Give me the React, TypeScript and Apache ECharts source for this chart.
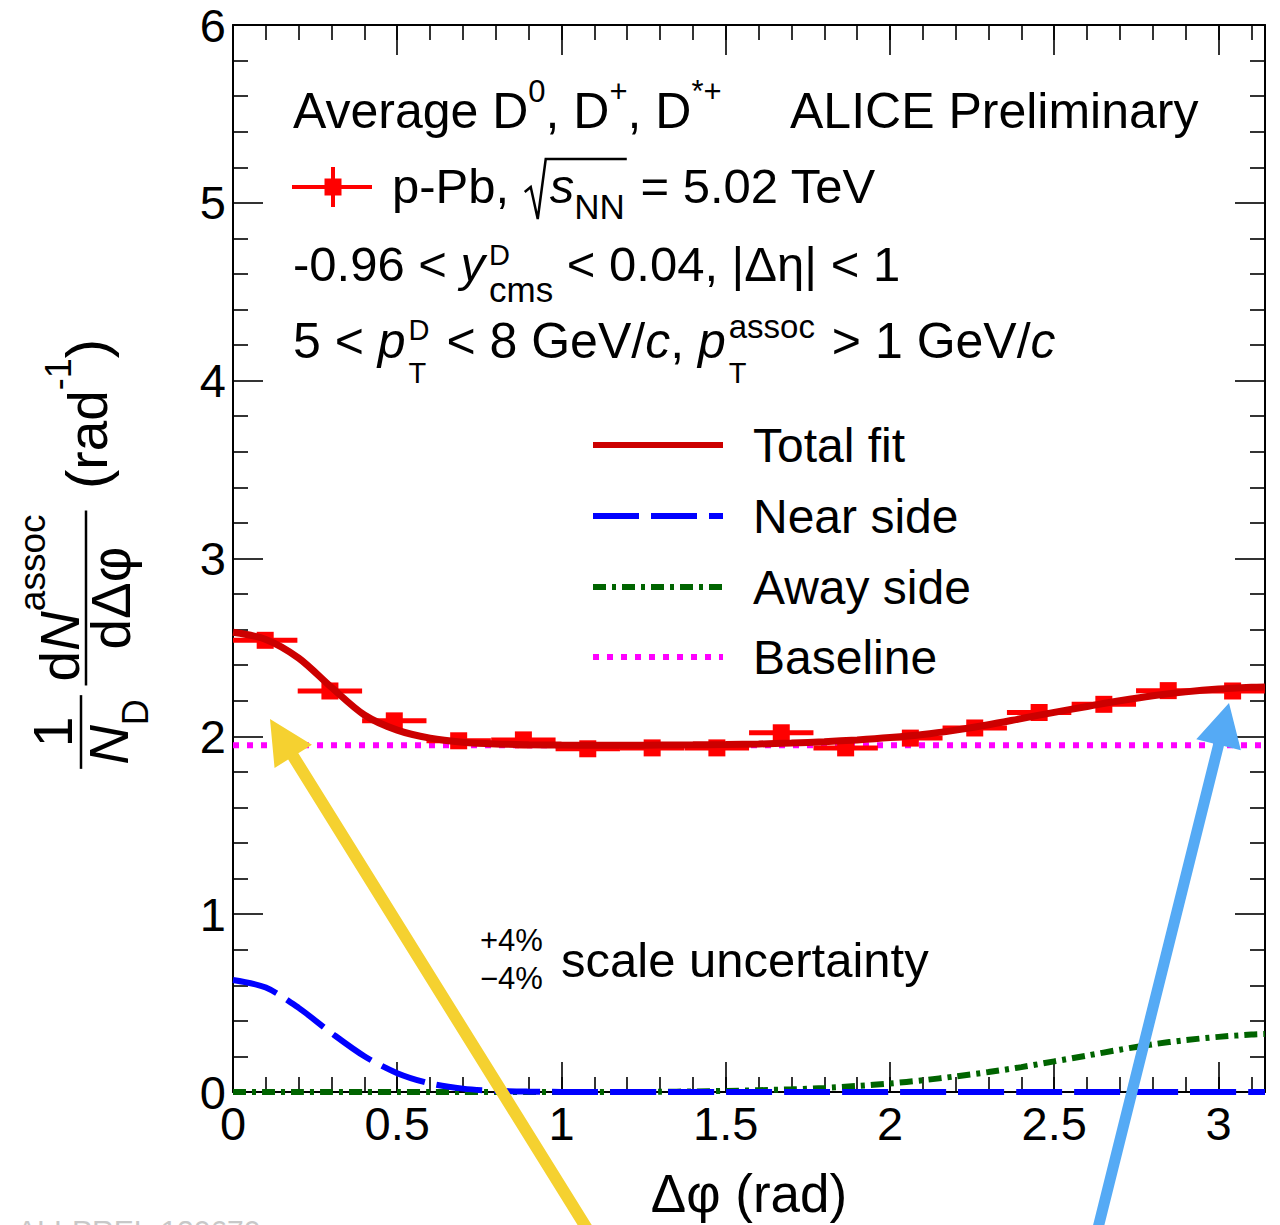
import { useEffect, useRef } from 'react';
import * as echarts from 'echarts';

const FONT = "'Liberation Sans', Arial, Helvetica, sans-serif";

// ---- measured points (bin centres in Δφ, bin half width, values, stat. errors)
const binCenters = [0.098, 0.295, 0.491, 0.687, 0.884, 1.08, 1.276, 1.473, 1.669, 1.865, 2.062, 2.258, 2.454, 2.651, 2.847, 3.043];
const binHalfWidth = 0.098;
const corrValues = [2.54, 2.255, 2.087, 1.975, 1.98, 1.93, 1.935, 1.935, 2.02, 1.935, 1.99, 2.047, 2.134, 2.18, 2.257, 2.255];
const corrErrors = [0.04, 0.04, 0.035, 0.035, 0.035, 0.035, 0.035, 0.035, 0.035, 0.035, 0.035, 0.035, 0.035, 0.035, 0.04, 0.04];

// ---- fit curves
const fitPhi = [0, 0.1, 0.2, 0.3, 0.4, 0.5, 0.6, 0.7, 0.8, 0.9, 1.0, 1.1, 1.2, 1.3, 1.4, 1.5, 1.6, 1.7, 1.8, 1.9, 2.0, 2.1, 2.2, 2.3, 2.4, 2.5, 2.6, 2.7, 2.8, 2.9, 3.0, 3.1, 3.1416];
const totalFit = [2.585, 2.545, 2.44, 2.275, 2.12, 2.035, 1.99, 1.967, 1.957, 1.953, 1.951, 1.95, 1.95, 1.951, 1.952, 1.954, 1.957, 1.962, 1.97, 1.98, 1.993, 2.01, 2.035, 2.065, 2.1, 2.135, 2.168, 2.2, 2.228, 2.25, 2.266, 2.276, 2.278];
const nearSide = [0.63, 0.587, 0.473, 0.331, 0.201, 0.106, 0.048, 0.019, 0.0065, 0.002, 0.0005, 0, 0, 0, 0, 0, 0, 0, 0, 0, 0, 0, 0, 0, 0, 0, 0, 0, 0, 0, 0, 0, 0];
const awaySide = [0, 0, 0, 0, 0, 0, 0, 0, 0, 0, 0, 0, 0, 0.001, 0.003, 0.006, 0.01, 0.015, 0.023, 0.034, 0.048, 0.066, 0.088, 0.112, 0.14, 0.172, 0.205, 0.238, 0.268, 0.292, 0.31, 0.323, 0.326];
const baselineLevel = 1.95;

// ---- axes
const xTickLabels = ['0', '0.5', '1', '1.5', '2', '2.5', '3'];
const yTickLabels = ['0', '1', '2', '3', '4', '5', '6'];
const xMin = 0;
const xMax = Math.PI;
const yMin = 0;
const yMax = 6;

export default function App() {
  const ref = useRef<HTMLDivElement>(null);

  useEffect(() => {
    const el = ref.current!;
    const chart = echarts.init(el, null, { renderer: 'svg' });

    const cvs = document.createElement('canvas').getContext('2d')!;
    const fontStr = (s: number, it?: boolean) => `${it ? 'italic ' : ''}${s}px ${FONT}`;
    const tw = (t: string, s: number, it?: boolean) => {
      cvs.font = fontStr(s, it);
      return cvs.measureText(t).width;
    };
    const mkText = (x: number, base: number, t: string, s: number, it = false, align = 'left', fill = '#000') => ({
      type: 'text',
      x,
      y: base - 0.3465 * s,
      z: 50,
      silent: true,
      style: { text: t, font: fontStr(s, it), fill, textAlign: align, textVerticalAlign: 'middle', verticalAlign: 'middle' },
    });
    type P = { t?: string; s?: number; dy?: number; it?: boolean; gap?: number; stack?: P[] };
    const runWidth = (pieces: P[]) => {
      let x = 0;
      for (const p of pieces) {
        if (p.gap !== undefined) { x += p.gap; continue; }
        const items = p.stack ? p.stack : [p];
        x += Math.max(...items.map((q) => tw(q.t!, q.s!, !!q.it)));
      }
      return x;
    };
    const run = (x0: number, base: number, pieces: P[], out: any[]) => {
      let x = x0;
      for (const p of pieces) {
        if (p.gap !== undefined) { x += p.gap; continue; }
        const items = p.stack ? p.stack : [p];
        let w = 0;
        for (const q of items) {
          out.push(mkText(x, base + (q.dy || 0), q.t!, q.s!, !!q.it));
          w = Math.max(w, tw(q.t!, q.s!, !!q.it));
        }
        x += w;
      }
      return x;
    };

    const g: any[] = [];
    const F = 50;
    // header lines
    run(293, 128, [
      { t: 'Average D', s: F }, { t: '0', s: 31, dy: -26 },
      { t: ', D', s: F }, { t: '+', s: 31, dy: -26 },
      { t: ', D', s: F }, { t: '*+', s: 31, dy: -26 },
    ], g);
    g.push(mkText(790, 128, 'ALICE Preliminary', F));

    // data legend marker
    g.push({ type: 'line', z: 50, shape: { x1: 292, y1: 187, x2: 372, y2: 187 }, style: { stroke: '#ff0000', lineWidth: 4 } });
    g.push({ type: 'line', z: 50, shape: { x1: 333, y1: 167, x2: 333, y2: 207 }, style: { stroke: '#ff0000', lineWidth: 4 } });
    g.push({ type: 'rect', z: 50, shape: { x: 324.5, y: 178.5, width: 17, height: 17 }, style: { fill: '#ff0000' } });
    const x1 = run(392, 203, [{ t: 'p-Pb, ', s: 49 }], g);
    const r0 = x1 + 2;
    const x2 = run(r0 + 25, 203, [{ t: 's', s: 49, it: true }, { t: 'NN', s: 35, dy: 16 }], g);
    g.push({
      type: 'polyline', z: 50,
      shape: { points: [[r0, 192], [r0 + 6, 187], [r0 + 13, 219], [r0 + 21, 159], [x2 + 2, 159]] },
      style: { stroke: '#000', lineWidth: 2.5, fill: null },
    });
    run(x2 + 2, 203, [{ t: ' = 5.02 TeV', s: 49 }], g);

    run(293, 281, [
      { t: '-0.96 < ', s: 49 }, { t: 'y', s: 49, it: true }, { gap: 4 },
      { stack: [{ t: 'D', s: 29, dy: -16 }, { t: 'cms', s: 35, dy: 21 }] },
      { t: ' < 0.04, |Δη| < 1', s: 49 },
    ], g);

    run(293, 358, [
      { t: '5 < ', s: F }, { t: 'p', s: F, it: true }, { gap: 3 },
      { stack: [{ t: 'D', s: 29, dy: -18 }, { t: 'T', s: 29, dy: 25 }] }, { gap: 3 },
      { t: ' < 8 GeV/', s: F }, { t: 'c', s: F, it: true }, { t: ', ', s: F },
      { t: 'p', s: F, it: true }, { gap: 3 },
      { stack: [{ t: 'assoc', s: 33, dy: -20 }, { t: 'T', s: 29, dy: 25 }] }, { gap: 3 },
      { t: ' > 1 GeV/', s: F }, { t: 'c', s: F, it: true },
    ], g);

    // fit legend
    const legY = [445, 516, 587, 657];
    const legItems = [
      { name: 'Total fit', color: '#cc0000', dash: null as any, w: 6 },
      { name: 'Near side', color: '#0000ff', dash: [46, 12], w: 6 },
      { name: 'Away side', color: '#006400', dash: [13, 6, 4, 6], w: 6 },
      { name: 'Baseline', color: '#ff00ff', dash: [6, 8], w: 6 },
    ];
    legItems.forEach((it, i) => {
      g.push({ type: 'line', z: 50, shape: { x1: 593, y1: legY[i], x2: 723, y2: legY[i] }, style: { stroke: it.color, lineWidth: it.w, lineDash: it.dash } });
      g.push(mkText(753, legY[i] + 17, it.name, 48));
    });

    // scale uncertainty
    g.push(mkText(480, 951, '+4%', 31));
    g.push(mkText(480, 989, '\u22124%', 31));
    g.push(mkText(561, 977, 'scale uncertainty', 49));

    // x-axis title
    g.push(mkText(749, 1212, 'Δφ (rad)', 53, false, 'center'));

    // y-axis title (rotated group; local u along the reading direction, v downwards)
    const YF = 55;
    const yt: any[] = [];
    const c1 = -172;
    yt.push(mkText(c1, -13, '1', YF, false, 'center'));
    const den1: P[] = [{ t: 'N', s: YF, it: true }, { t: 'D', s: 36, dy: 20 }];
    const wd1 = runWidth(den1);
    yt.push({ type: 'line', shape: { x1: c1 - wd1 / 2 - 4, y1: -4, x2: c1 + wd1 / 2 + 4, y2: -4 }, style: { stroke: '#000', lineWidth: 2.5 } });
    run(c1 - wd1 / 2, 43, den1, yt);
    const c2 = -38;
    const num2: P[] = [{ t: 'd', s: YF }, { t: 'N', s: YF, it: true }, { t: 'assoc', s: 37, dy: -34 }];
    const wn2 = runWidth(num2);
    const den2: P[] = [{ t: 'dΔφ', s: YF }];
    const wden2 = runWidth(den2);
    const wb2 = Math.max(wn2, wden2);
    yt.push({ type: 'line', shape: { x1: c2 - wb2 / 2 - 4, y1: 1, x2: c2 + wb2 / 2 + 4, y2: 1 }, style: { stroke: '#000', lineWidth: 2.5 } });
    run(c2 - wn2 / 2, -6, num2, yt);
    run(c2 - wden2 / 2, 45, den2, yt);
    run(71, 22, [{ t: '(', s: 58 }, { t: 'rad', s: YF }, { t: '-1', s: 36, dy: -36 }, { t: ')', s: 58 }], yt);
    g.push({ type: 'group', x: 85, y: 560, rotation: Math.PI / 2, z: 50, children: yt });

    // faint figure id (cut by page edge, as in the reference)
    g.push(mkText(17, 1241, 'ALI-PREL-120670', 30, false, 'left', '#c8c8c8'));

    // arrows
    const arrow = (tail: number[], tip: number[], w: number, hl: number, hw: number, color: string) => {
      const dx = tip[0] - tail[0], dy = tip[1] - tail[1];
      const L = Math.hypot(dx, dy);
      const ux = dx / L, uy = dy / L, px = -uy, py = ux;
      const nx = tip[0] - ux * hl, ny = tip[1] - uy * hl;
      const pts = [
        [tail[0] + px * w / 2, tail[1] + py * w / 2],
        [nx + px * w / 2, ny + py * w / 2],
        [nx + px * hw, ny + py * hw],
        [tip[0], tip[1]],
        [nx - px * hw, ny - py * hw],
        [nx - px * w / 2, ny - py * w / 2],
        [tail[0] - px * w / 2, tail[1] - py * w / 2],
      ];
      return { type: 'polygon', z: 100, silent: true, shape: { points: pts }, style: { fill: color } };
    };
    g.push(arrow([594, 1240], [270, 719], 12, 44, 22, '#f5d130'));
    g.push(arrow([1095, 1240], [1229, 703], 11, 43, 23, '#55aaf5'));

    const tickLine = { color: '#000', width: 1.6 };
    const frameLine = { show: true, onZero: false, lineStyle: { color: '#000', width: 2 } };
    const xFmt = (v: number) => {
      const lab = xTickLabels.find((l) => Math.abs(parseFloat(l) - v) < 1e-6);
      return lab ?? '';
    };
    const yFmt = (v: number) => {
      const lab = yTickLabels.find((l) => Math.abs(parseFloat(l) - v) < 1e-6);
      return lab ?? '';
    };
    const xBase = { type: 'value', min: xMin, max: xMax, splitLine: { show: false } };

    const renderPoint = (params: any, api: any) => {
      const x = api.value(0), y = api.value(1), xe = api.value(2), ye = api.value(3);
      const c = api.coord([x, y]);
      const l = api.coord([x - xe, y]);
      const r = api.coord([x + xe, y]);
      const t = api.coord([x, y + ye]);
      const b = api.coord([x, y - ye]);
      return {
        type: 'group',
        children: [
          { type: 'line', shape: { x1: l[0], y1: c[1], x2: r[0], y2: c[1] }, style: { stroke: '#ff0000', lineWidth: 5 } },
          { type: 'line', shape: { x1: c[0], y1: t[1], x2: c[0], y2: b[1] }, style: { stroke: '#ff0000', lineWidth: 4 } },
          { type: 'rect', shape: { x: c[0] - 8.5, y: c[1] - 8.5, width: 17, height: 17 }, style: { fill: '#ff0000' } },
        ],
      };
    };

    const option: any = {
      animation: false,
      backgroundColor: '#fff',
      grid: { left: 233, top: 25, width: 1032, height: 1067, containLabel: false },
      xAxis: [
        { ...xBase, position: 'bottom', interval: 0.5, axisLine: frameLine, axisTick: { show: true, inside: true, length: 30, lineStyle: tickLine }, axisLabel: { show: true, formatter: xFmt, color: '#000', fontSize: 47, fontFamily: FONT, margin: 8 } },
        { ...xBase, position: 'bottom', interval: 0.1, axisLine: { show: false, onZero: false }, axisTick: { show: true, inside: true, length: 15, lineStyle: tickLine }, axisLabel: { show: false } },
        { ...xBase, position: 'top', interval: 0.5, axisLine: frameLine, axisTick: { show: true, inside: true, length: 30, lineStyle: tickLine }, axisLabel: { show: false } },
        { ...xBase, position: 'top', interval: 0.1, axisLine: { show: false, onZero: false }, axisTick: { show: true, inside: true, length: 15, lineStyle: tickLine }, axisLabel: { show: false } },
      ],
      yAxis: [
        { type: 'value', min: yMin, max: yMax, interval: 1, position: 'left', axisLine: frameLine, splitLine: { show: false }, axisTick: { show: true, inside: true, length: 30, lineStyle: tickLine }, minorTick: { show: true, splitNumber: 5, length: 15, lineStyle: tickLine }, minorSplitLine: { show: false }, axisLabel: { show: true, formatter: yFmt, color: '#000', fontSize: 47, fontFamily: FONT, margin: 7 } },
        { type: 'value', min: yMin, max: yMax, interval: 1, position: 'right', axisLine: frameLine, splitLine: { show: false }, axisTick: { show: true, inside: true, length: 30, lineStyle: tickLine }, minorTick: { show: true, splitNumber: 5, length: 15, lineStyle: tickLine }, minorSplitLine: { show: false }, axisLabel: { show: false } },
      ],
      series: [
        { type: 'line', name: 'Baseline', xAxisIndex: 0, yAxisIndex: 0, data: [[xMin, baselineLevel], [xMax, baselineLevel]], symbol: 'none', silent: true, lineStyle: { color: '#ff00ff', width: 6, type: [6, 8] }, z: 2 },
        { type: 'line', name: 'Away side', xAxisIndex: 0, yAxisIndex: 0, data: fitPhi.map((p, i) => [p, awaySide[i]]), smooth: 0.3, symbol: 'none', silent: true, lineStyle: { color: '#006400', width: 6, type: [13, 6, 4, 6] }, z: 2 },
        { type: 'line', name: 'Near side', xAxisIndex: 0, yAxisIndex: 0, data: fitPhi.map((p, i) => [p, nearSide[i]]), smooth: 0.3, symbol: 'none', silent: true, lineStyle: { color: '#0000ff', width: 6, type: [46, 12] }, z: 3 },
        { type: 'custom', name: 'Data', xAxisIndex: 0, yAxisIndex: 0, renderItem: renderPoint, data: binCenters.map((c, i) => [c, corrValues[i], binHalfWidth, corrErrors[i]]), encode: { x: 0, y: 1 }, silent: true, z: 4 },
        { type: 'line', name: 'Total fit', xAxisIndex: 0, yAxisIndex: 0, data: fitPhi.map((p, i) => [p, totalFit[i]]), smooth: 0.3, symbol: 'none', silent: true, lineStyle: { color: '#cc0000', width: 7 }, z: 5 },
      ],
      graphic: { elements: g },
    };
    chart.setOption(option);
    return () => chart.dispose();
  }, []);

  return <div ref={ref} style={{ position: 'fixed', left: 0, top: 0, width: 1280, height: 1225, background: '#fff' }} />;
}
